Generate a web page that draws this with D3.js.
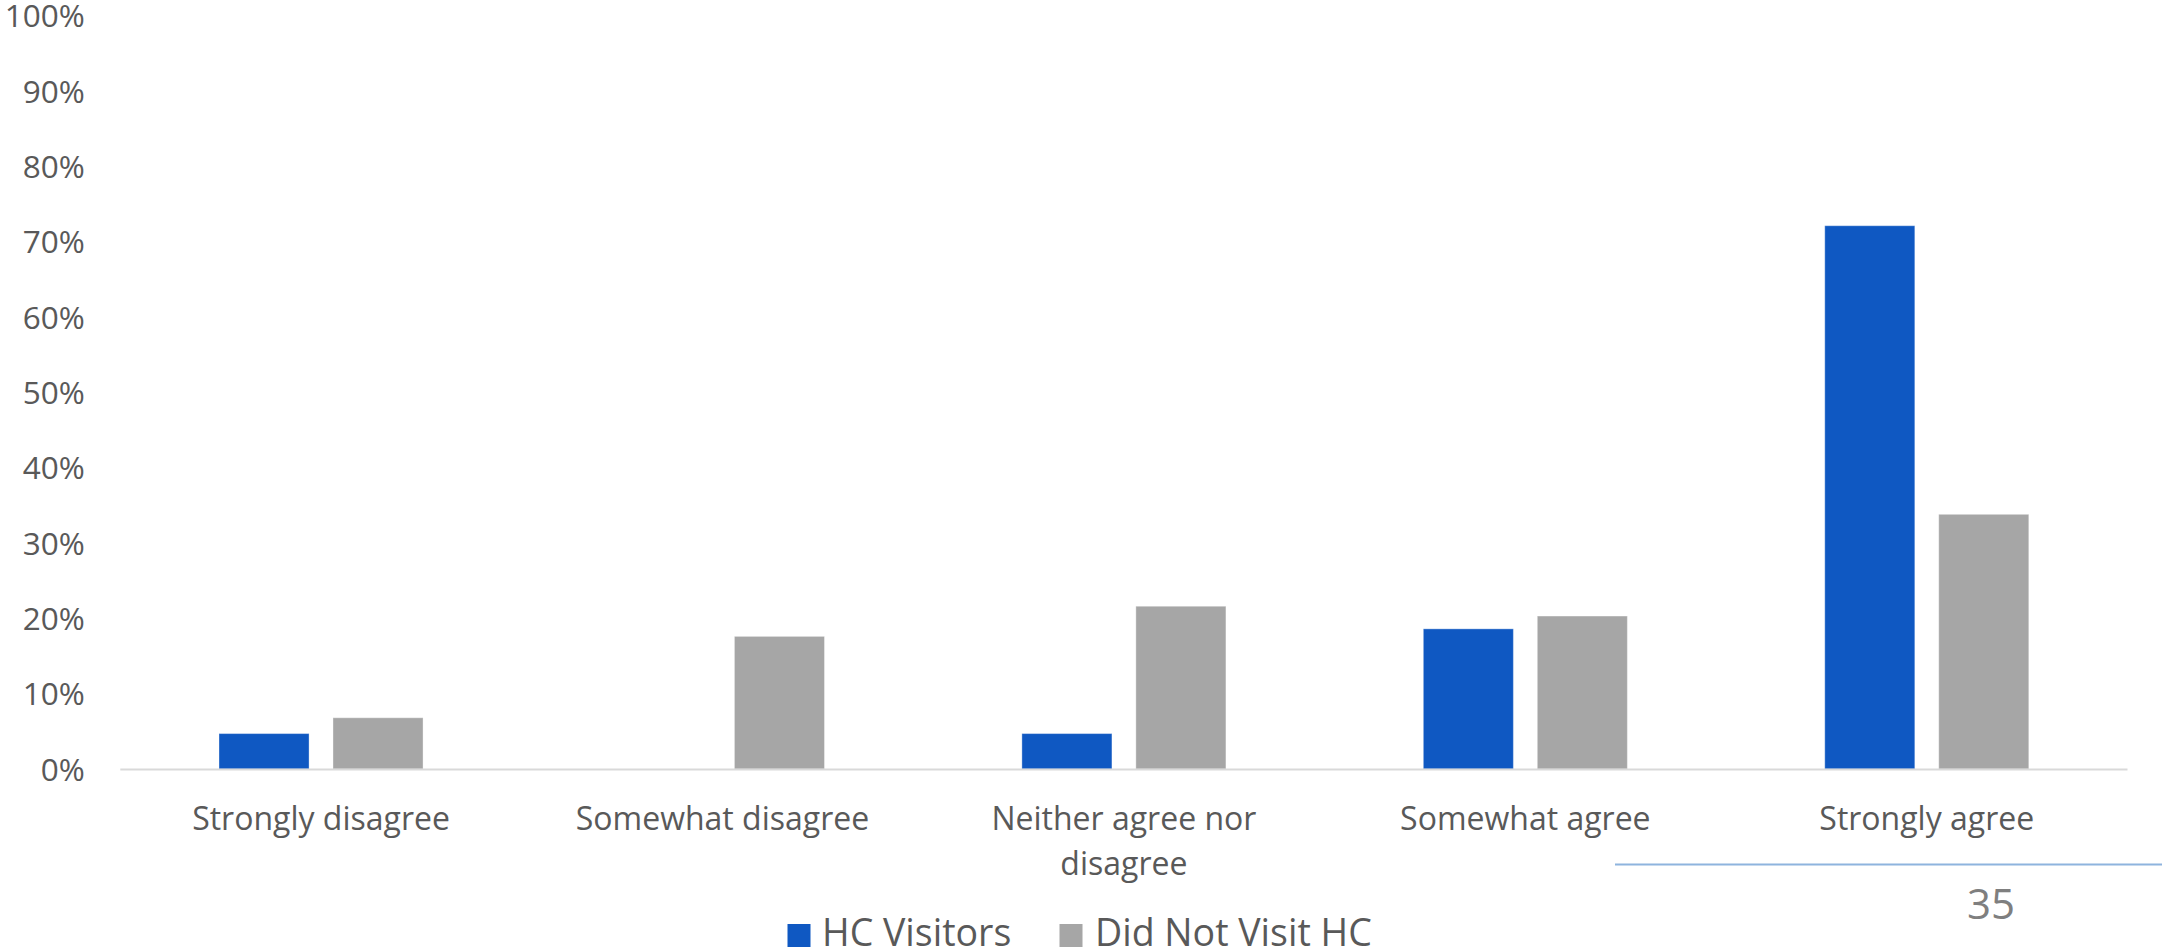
<!DOCTYPE html>
<html>
<head>
<meta charset="utf-8">
<script src="https://cdn.jsdelivr.net/npm/d3@7"></script>
<style>
  html, body { margin: 0; padding: 0; background: #ffffff; }
  svg { display: block; font-family: "Open Sans", "Noto Sans", sans-serif; }
</style>
</head>
<body>
<svg id="chart" width="2162" height="951"></svg>
<script>
// Survey responses by group (share of respondents)
const categories = ["Strongly disagree", "Somewhat disagree", "Neither agree nor disagree", "Somewhat agree", "Strongly agree"];
const seriesNames = ["HC Visitors", "Did Not Visit HC"];
const hcVisitors = [0.047, 0.0, 0.047, 0.186, 0.721];
const didNotVisit = [0.068, 0.176, 0.216, 0.203, 0.338];
const yTicks = [0, 0.1, 0.2, 0.3, 0.4, 0.5, 0.6, 0.7, 0.8, 0.9, 1.0];
const pageNumber = "35";

const colors = { "HC Visitors": "#0f58c2", "Did Not Visit HC": "#a6a6a6" };
const seriesValues = { "HC Visitors": hcVisitors, "Did Not Visit HC": didNotVisit };

const svg = d3.select("#chart");
const plot = { left: 120.3, right: 2127.5, top: 15.5, bottom: 769 };

const x = d3.scaleBand().domain(categories).range([plot.left, plot.right]).paddingInner(0).paddingOuter(0);
const xInner = d3.scaleBand().domain(seriesNames).range([0, x.bandwidth()]).paddingInner(0.21).paddingOuter(0.866);
const y = d3.scaleLinear().domain([0, 1]).range([plot.bottom, plot.top]);

// Y axis labels only (no line, no ticks)
const yAxis = d3.axisLeft(y).tickValues(yTicks).tickFormat(d3.format(".0%")).tickSize(0).tickPadding(35.5);
const yg = svg.append("g").attr("transform", `translate(${plot.left},0)`).call(yAxis);
yg.select(".domain").remove();
yg.selectAll("text")
  .attr("fill", "#595959")
  .style("font-size", "31.5px")
  .style("font-family", "'Open Sans', sans-serif")
  .attr("dy", "0.36em");

// Bars
const groups = svg.append("g").selectAll("g")
  .data(categories)
  .join("g")
  .attr("transform", d => `translate(${x(d)},0)`);

groups.selectAll("rect")
  .data((c, i) => seriesNames.map(s => ({ series: s, value: seriesValues[s][i] })))
  .join("rect")
  .filter(d => d.value > 0)
  .attr("x", d => xInner(d.series))
  .attr("width", xInner.bandwidth())
  .attr("y", d => y(d.value))
  .attr("height", d => y(0) - y(d.value))
  .attr("fill", d => colors[d.series])
  .attr("stroke", "rgba(255,255,255,0.35)")
  .attr("stroke-width", 1);

// Category axis line
svg.append("line")
  .attr("x1", plot.left).attr("x2", plot.right)
  .attr("y1", y(0) + 0.5).attr("y2", y(0) + 0.5)
  .attr("stroke", "#d9d9d9").attr("stroke-width", 2);

// Category labels, wrapped to fit the band
const labelFont = 32;
const labelG = svg.append("g");
categories.forEach(c => {
  const cx = x(c) + x.bandwidth() / 2;
  const t = labelG.append("text")
    .attr("x", cx).attr("y", 830)
    .attr("text-anchor", "middle")
    .attr("fill", "#595959")
    .style("font-size", labelFont + "px");
  const words = c.split(" ");
  const maxW = x.bandwidth() * 0.8;
  let line = [];
  let lineNo = 0;
  let tspan = t.append("tspan").attr("x", cx).attr("y", 830);
  words.forEach(w => {
    line.push(w);
    tspan.text(line.join(" "));
    if (tspan.node().getComputedTextLength() > maxW && line.length > 1) {
      line.pop();
      tspan.text(line.join(" "));
      line = [w];
      lineNo += 1;
      tspan = t.append("tspan").attr("x", cx).attr("y", 830 + lineNo * 44.5).text(w);
    }
  });
});

// Legend
const legendItems = [
  { name: "HC Visitors", sx: 787.5, tx: 822 },
  { name: "Did Not Visit HC", sx: 1059.5, tx: 1095 }
];
const legend = svg.append("g");
legendItems.forEach(item => {
  legend.append("rect")
    .attr("x", item.sx).attr("y", 924)
    .attr("width", 23).attr("height", 23)
    .attr("fill", colors[item.name]);
  legend.append("text")
    .attr("x", item.tx).attr("y", 946)
    .attr("fill", "#595959")
    .style("font-size", "37.5px")
    .text(item.name);
});

// Slide footer rule and page number
svg.append("line")
  .attr("x1", 1615).attr("x2", 2162)
  .attr("y1", 864.5).attr("y2", 864.5)
  .attr("stroke", "#8eb4de").attr("stroke-width", 2);
svg.append("text")
  .attr("x", 1991).attr("y", 918.5)
  .attr("text-anchor", "middle")
  .attr("fill", "#7f7f7f")
  .style("font-size", "42px")
  .text(pageNumber);
</script>
</body>
</html>
